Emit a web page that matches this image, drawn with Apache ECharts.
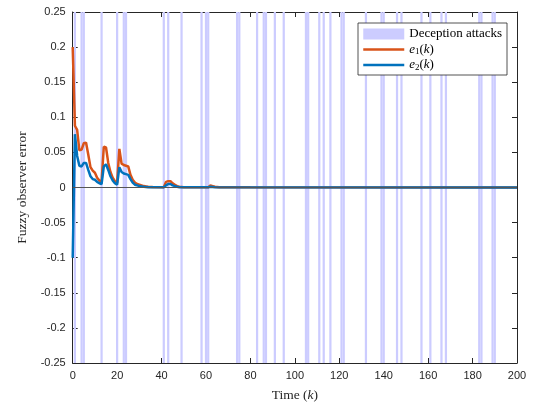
<!DOCTYPE html>
<html><head><meta charset="utf-8">
<script src="https://cdn.jsdelivr.net/npm/echarts@6/dist/echarts.min.js"></script>
<style>html,body{margin:0;padding:0;background:#fff}#c{width:538px;height:407px}</style>
</head><body><div id="c"></div>
<script>
// Deception attack instants (k)
const attacks = [1,4,5,13,20,23,24,41,43,49,58,60,61,74,75,83,86,87,91,95,105,106,111,113,116,121,122,132,139,140,146,148,157,161,166,168,183,184,189,190];
// e1(k) samples [k, value]
const e1 = [[0,0.200],[1,0.088],[2,0.082],[3,0.053],[4,0.054],[5,0.063],[6,0.064],[7,0.047],[8,0.029],[9,0.024],[10,0.021],[11,0.014],[12,0.010],[13,0.008],[14,0.058],[15,0.057],[16,0.035],[17,0.022],[18,0.014],[19,0.009],[20,0.007],[21,0.055],[22,0.034],[23,0.032],[24,0.031],[25,0.030],[26,0.018],[27,0.011],[28,0.007],[29,0.005],[30,0.004],[31,0.003],[32,0.002],[33,0.0015],[34,0.001],[36,0.0006],[41,0.0003],[42,0.008],[43,0.009],[44,0.009],[45,0.006],[46,0.004],[47,0.002],[48,0.001],[50,0.0005],[61,0.0003],[62,0.003],[63,0.002],[64,0.001],[66,0.0004],[80,0.0002],[200,0.0]];
// e2(k) samples [k, value]
const e2 = [[0,-0.100],[1,0.076],[2,0.045],[3,0.031],[4,0.030],[5,0.035],[6,0.035],[7,0.025],[8,0.016],[9,0.012],[10,0.011],[11,0.008],[12,0.006],[13,0.005],[14,0.030],[15,0.033],[16,0.025],[17,0.016],[18,0.010],[19,0.006],[20,0.004],[21,0.029],[22,0.022],[23,0.020],[24,0.019],[25,0.018],[26,0.012],[27,0.007],[28,0.004],[29,0.003],[30,0.002],[31,0.0015],[32,0.001],[34,0.0005],[41,0.0002],[42,0.003],[43,0.005],[44,0.005],[45,0.003],[46,0.002],[47,0.001],[48,0.0005],[61,0.0002],[62,0.001],[64,0.0004],[200,0.0]];
const xTicks = {min:0, max:200, interval:20};
const yTicks = {min:-0.25, max:0.25, interval:0.05};

const axisCol = '#262626';
const chart = echarts.init(document.getElementById('c'), null, {renderer:'canvas'});
const fmtY = v => String(parseFloat(v.toFixed(2)));
const baseAxis = {
  axisLine:{show:true, onZero:false, lineStyle:{color:axisCol, width:1}},
  axisTick:{show:true, inside:true, length:5, lineStyle:{color:axisCol}},
  splitLine:{show:false}
};
chart.setOption({
  animation:false,
  backgroundColor:'#fff',
  grid:{left:72.7, right:21, top:12, bottom:41, containLabel:false},
  legend:{
    orient:'vertical', left:358, top:23,
    backgroundColor:'#fff', borderColor:axisCol, borderWidth:0.8,
    padding:[4,5,3,4], itemWidth:41, itemHeight:11, itemGap:1.5,
    textStyle:{fontFamily:'Liberation Serif', fontSize:13, color:'#000', lineHeight:14,
      rich:{i:{fontStyle:'italic', fontFamily:'Liberation Serif', fontSize:13, lineHeight:14},
            s:{fontFamily:'Liberation Serif', fontSize:9, verticalAlign:'bottom', lineHeight:10, padding:[4,0,0,0]},
            n:{fontFamily:'Liberation Serif', fontSize:13, lineHeight:14}}},
    formatter: n => n==='e1' ? '{i|e}{s|1}{n|(}{i|k}{n|)}' : (n==='e2' ? '{i|e}{s|2}{n|(}{i|k}{n|)}' : n),
    data:[{name:'Deception attacks', icon:'rect'},
          {name:'e1', itemStyle:{opacity:0}, lineStyle:{width:2.5}},
          {name:'e2', itemStyle:{opacity:0}, lineStyle:{width:2.5}}]
  },
  xAxis:[
    Object.assign({type:'value', position:'bottom', min:xTicks.min, max:xTicks.max, interval:xTicks.interval,
      name:'Time ({i|k})', nameLocation:'middle', nameGap:25,
      nameTextStyle:{fontFamily:'Liberation Serif', fontSize:13.5, color:axisCol, rich:{i:{fontStyle:'italic', fontFamily:'Liberation Serif', fontSize:13.5, color:axisCol}}},
      axisLabel:{color:axisCol, fontFamily:'Liberation Sans', fontSize:11, margin:7}}, baseAxis),
    Object.assign({type:'value', position:'top', min:xTicks.min, max:xTicks.max, interval:xTicks.interval,
      axisLabel:{show:false}}, baseAxis)
  ],
  yAxis:[
    Object.assign({type:'value', position:'left', min:yTicks.min, max:yTicks.max, interval:yTicks.interval,
      name:'Fuzzy observer error', nameLocation:'middle', nameGap:43,
      nameTextStyle:{fontFamily:'Liberation Serif', fontSize:13.5, color:axisCol},
      axisLabel:{color:axisCol, fontFamily:'Liberation Sans', fontSize:11, margin:7, formatter:fmtY}}, baseAxis),
    Object.assign({type:'value', position:'right', min:yTicks.min, max:yTicks.max, interval:yTicks.interval,
      axisLabel:{show:false}}, baseAxis)
  ],
  series:[
    {
      name:'Deception attacks', type:'custom', xAxisIndex:0, yAxisIndex:0, z:1,
      itemStyle:{color:'#ccccff'},
      encode:{x:0},
      data: attacks.map(k=>[k]),
      renderItem:(params, api) => {
        const k = api.value(0);
        const p0 = api.coord([k-0.5, yTicks.max]);
        const p1 = api.coord([k+0.5, yTicks.min]);
        return {type:'rect', shape:{x:p0[0], y:p0[1], width:p1[0]-p0[0], height:p1[1]-p0[1]},
          style:{fill:'#ccccff'}};
      },
      markLine:{silent:true, symbol:'none', label:{show:false},
        lineStyle:{color:'#555555', width:1, type:'solid'}, data:[{yAxis:0}]}
    },
    {name:'e1', type:'line', data:e1, showSymbol:false, symbol:'none', z:3,
      lineStyle:{color:'#D95319', width:2.5}, itemStyle:{color:'#D95319'}},
    {name:'e2', type:'line', data:e2, showSymbol:false, symbol:'none', z:4,
      lineStyle:{color:'#0072BD', width:2.5}, itemStyle:{color:'#0072BD'}}
  ]
});
</script></body></html>
